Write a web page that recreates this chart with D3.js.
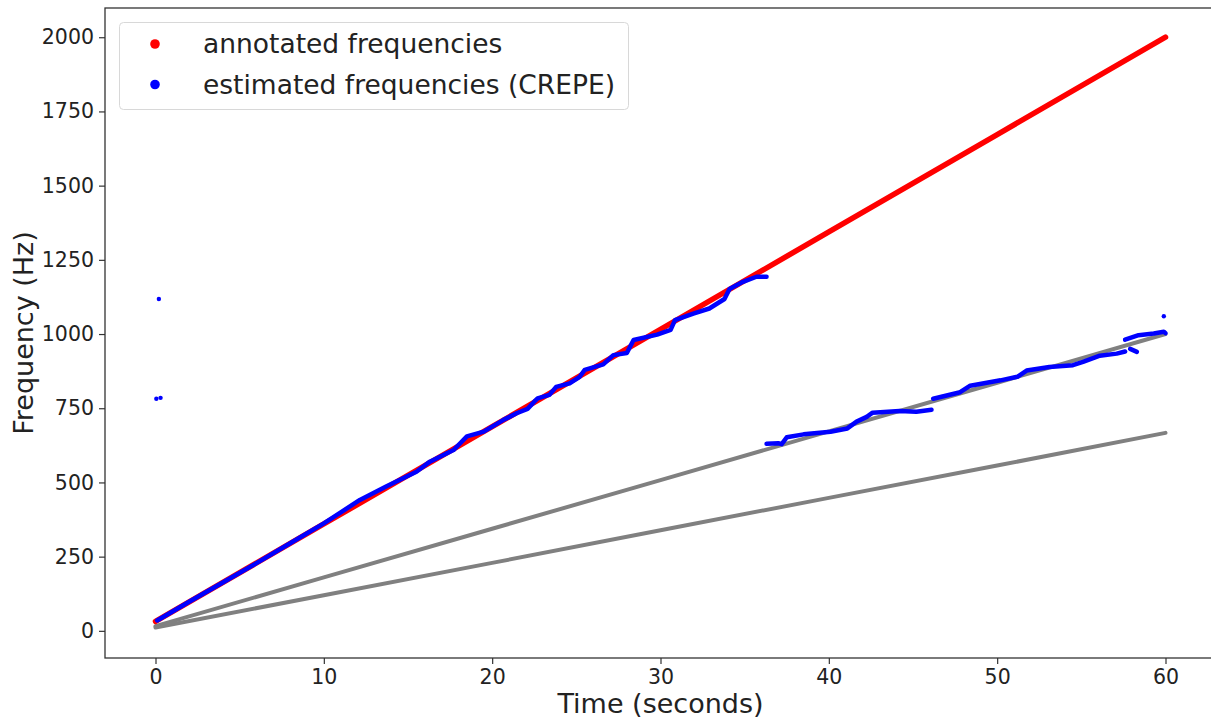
<!DOCTYPE html>
<html>
<head>
<meta charset="utf-8">
<script src="https://cdn.jsdelivr.net/npm/d3@7"></script>
<style>
  html, body { margin: 0; padding: 0; background: #fff; }
  svg { display: block; font-family: "DejaVu Sans", sans-serif; }
  .tick text { fill: #222; }
</style>
</head>
<body>
<svg id="chart" width="1211" height="720"></svg>
<script>
// time samples (s) for the sweep lines
const sweepTimes = [0, 10, 20, 30, 40, 50, 60];
// annotated f0 and its sub-harmonics (grey)
const annotatedFreqs = [32, 360, 688, 1016, 1344, 1672, 2000];
const halfFreqs = [16, 180, 344, 508, 672, 836, 1000];
const thirdFreqs = [11, 120, 229, 339, 448, 557, 667];

// CREPE estimate, traced piece by piece [time, freq]
const estimatedMain = [
  [0.1, 35], [2, 98], [4, 163], [6, 228], [8, 295], [10, 362], [12.14, 441],
  [13.7, 486], [15.5, 536], [16.3, 570], [17.7, 609], [18.1, 632], [18.5, 655],
  [19.5, 671], [20.65, 710], [21.45, 733], [22.1, 748], [22.5, 772], [22.7, 783],
  [23.4, 795], [23.8, 822], [24.6, 834], [25.2, 856], [25.5, 879], [26.6, 898],
  [27.2, 929], [28.0, 936], [28.4, 980], [29.8, 998], [30.6, 1014], [30.86, 1047],
  [31.95, 1069], [32.9, 1086], [33.8, 1118], [34.1, 1152], [34.9, 1176],
  [35.7, 1193], [36.3, 1193]
];
const estimatedOctaveA = [
  [36.3, 630], [37.0, 632], [37.2, 629], [37.5, 652], [38.5, 662], [40.1, 671],
  [41.1, 682], [41.65, 705], [42.25, 721], [42.6, 735], [44.2, 741],
  [45.2, 738], [46.1, 745]
];
const estimatedOctaveB = [
  [46.2, 782], [47.8, 804], [48.4, 826], [50.2, 844], [51.2, 856], [51.75, 877],
  [53.1, 889], [54.5, 895], [55.1, 906], [56.1, 927], [57.1, 934], [57.6, 941]
];
const estimatedOctaveC = [
  [57.6, 981], [58.4, 996], [59.3, 1002], [59.9, 1008], [60, 1003]
];
const estimatedDash = [[57.9, 950], [58.3, 940]];
const estimatedOutliers = [[0.2, 1118], [0.05, 782], [0.3, 785], [59.9, 1060]];

const xTicks = [0, 10, 20, 30, 40, 50, 60];
const yTicks = [0, 250, 500, 750, 1000, 1250, 1500, 1750, 2000];

const svg = d3.select('#chart');
const plot = { left: 105, top: 8, right: 1216, bottom: 658 };

const x = d3.scaleLinear().domain([-3, 63]).range([plot.left, plot.right]);
const y = d3.scaleLinear().domain([-91.5, 2098.5]).range([plot.bottom, plot.top]);

const line = d3.line().x(d => x(d[0])).y(d => y(d[1]));

const clip = svg.append('defs').append('clipPath').attr('id', 'plotclip');
clip.append('rect')
  .attr('x', plot.left).attr('y', plot.top)
  .attr('width', plot.right - plot.left).attr('height', plot.bottom - plot.top);

const g = svg.append('g').attr('clip-path', 'url(#plotclip)');

// grey sub-harmonics
[halfFreqs, thirdFreqs].forEach(fs => {
  g.append('path')
    .datum(sweepTimes.map((t, i) => [t, fs[i]]))
    .attr('d', line)
    .attr('fill', 'none')
    .attr('stroke', '#808080')
    .attr('stroke-width', 4)
    .attr('stroke-linecap', 'round');
});

// annotated (red)
g.append('path')
  .datum(sweepTimes.map((t, i) => [t, annotatedFreqs[i]]))
  .attr('d', line)
  .attr('fill', 'none')
  .attr('stroke', '#ff0000')
  .attr('stroke-width', 5.5)
  .attr('stroke-linecap', 'round');

// estimated (blue)
[estimatedMain, estimatedOctaveA, estimatedOctaveB, estimatedOctaveC, estimatedDash].forEach(seg => {
  g.append('path')
    .datum(seg)
    .attr('d', line)
    .attr('fill', 'none')
    .attr('stroke', '#0000ff')
    .attr('stroke-width', 4.5)
    .attr('stroke-linecap', 'round')
    .attr('stroke-linejoin', 'round');
});

g.selectAll('circle.outlier')
  .data(estimatedOutliers)
  .enter().append('circle')
  .attr('class', 'outlier')
  .attr('cx', d => x(d[0]))
  .attr('cy', d => y(d[1]))
  .attr('r', 2.2)
  .attr('fill', '#0000ff');

// axes
const xAxis = svg.append('g')
  .attr('transform', `translate(0,${plot.bottom})`)
  .call(d3.axisBottom(x).tickValues(xTicks).tickSize(6).tickPadding(5).tickFormat(d3.format('d')));
const yAxis = svg.append('g')
  .attr('transform', `translate(${plot.left},0)`)
  .call(d3.axisLeft(y).tickValues(yTicks).tickSize(6).tickPadding(5).tickFormat(d3.format('d')));

[xAxis, yAxis].forEach(a => {
  a.select('.domain').remove();
  a.selectAll('.tick line').attr('stroke', '#333').attr('stroke-width', 1.2);
  a.selectAll('.tick text')
    .style('font-family', '"DejaVu Sans", sans-serif')
    .style('font-size', '20.5px');
});

// spines
svg.append('rect')
  .attr('x', plot.left).attr('y', plot.top)
  .attr('width', plot.right - plot.left).attr('height', plot.bottom - plot.top)
  .attr('fill', 'none').attr('stroke', '#333').attr('stroke-width', 1.3);

// axis labels
svg.append('text')
  .attr('x', (plot.left + plot.right) / 2)
  .attr('y', 713)
  .attr('text-anchor', 'middle')
  .style('font-size', '27px')
  .attr('fill', '#222')
  .text('Time (seconds)');

svg.append('text')
  .attr('transform', `translate(33,${(plot.top + plot.bottom) / 2}) rotate(-90)`)
  .attr('text-anchor', 'middle')
  .style('font-size', '27px')
  .attr('fill', '#222')
  .text('Frequency (Hz)');

// legend
const legendItems = [
  { label: 'annotated frequencies', color: '#ff0000' },
  { label: 'estimated frequencies (CREPE)', color: '#0000ff' }
];
const legend = svg.append('g');
legend.append('rect')
  .attr('x', 119.5).attr('y', 22.5)
  .attr('width', 509).attr('height', 87)
  .attr('rx', 4)
  .attr('fill', '#fff').attr('fill-opacity', 0.8)
  .attr('stroke', '#d8d8d8');
legendItems.forEach((d, i) => {
  const cy = 44 + i * 40.5;
  legend.append('circle').attr('cx', 155).attr('cy', cy).attr('r', 4.8).attr('fill', d.color);
  legend.append('text')
    .attr('x', 203).attr('y', cy)
    .attr('dy', '0.35em')
    .style('font-size', '26.5px')
    .attr('fill', '#222')
    .text(d.label);
});
</script>
</body>
</html>
